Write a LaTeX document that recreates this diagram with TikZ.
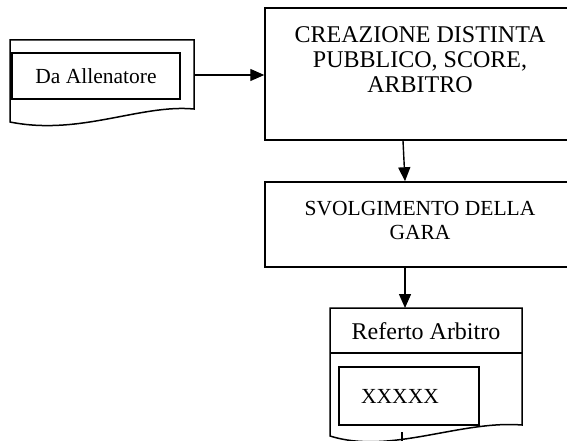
\documentclass[tikz,border=0pt]{standalone}
\usepackage{fontspec}
\setmainfont{Liberation Serif}
\usetikzlibrary{arrows.meta}

\tikzset{
  box/.style={draw, line width=1.5pt, inner sep=0pt},
  doc/.style={line width=1.5pt},
  freccia/.style={line width=1.4pt, -{Triangle[length=14pt,width=12pt]}},
  testo/.style={align=center, font=\fontsize{21.5}{24}\selectfont},
  testogr/.style={align=center, font=\fontsize{24}{25}\selectfont},
}

\begin{document}
\begin{tikzpicture}[x=1pt,y=-1pt]
		\useasboundingbox (0,0) rectangle (567,441);
		\clip (0,0) rectangle (567,441);

		% documento in ingresso
		\draw[doc] (10,40) -- (194,40) -- (194,109)
			.. controls (140,104) and (80,136) .. (10,122) -- cycle;
		\node[box, minimum width=168pt, minimum height=46pt, testo] (alle) at (96,76) {Da Allenatore};
		\coordinate (alleout) at (194,75);

		% processi
		\node[box, minimum width=315pt, minimum height=132pt] (crea) at (422.5,74) {};
		\node[testogr] (creatxt) at (420,60) {CREAZIONE DISTINTA\\PUBBLICO, SCORE,\\ARBITRO};

		\node[box, minimum width=315pt, minimum height=85pt] (gara) at (422.5,224.5) {};
		\node[testo] (garatxt) at (420,220) {SVOLGIMENTO DELLA\\GARA};

		% referto
		\draw[doc] (330,308) -- (522,308) -- (522,425)
			.. controls (460,420) and (390,455) .. (330,436) -- cycle;
		\draw[doc] (330,353) -- (522,353);
		\node[testogr] (referto) at (426,331) {Referto Arbitro};
		\node[box, minimum width=140pt, minimum height=58pt] (xx) at (409,396) {};
		\node[testo] (xxtxt) at (400,396) {XXXXX};
		\coordinate (reftop) at (405,308);
		\coordinate (refout) at (402,432);
		\coordinate (refend) at (402,446);

		% frecce
		\draw[freccia] (alleout) -- (alleout -| crea.west);
		\draw[freccia] ([xshift=-19.5pt]crea.south) -- ([xshift=-17.5pt]gara.north);
		\draw[freccia] ([xshift=-17.5pt]gara.south) -- (reftop);
		\draw[line width=1.4pt] (refout) -- (refend);
	\end{tikzpicture}
\end{document}
